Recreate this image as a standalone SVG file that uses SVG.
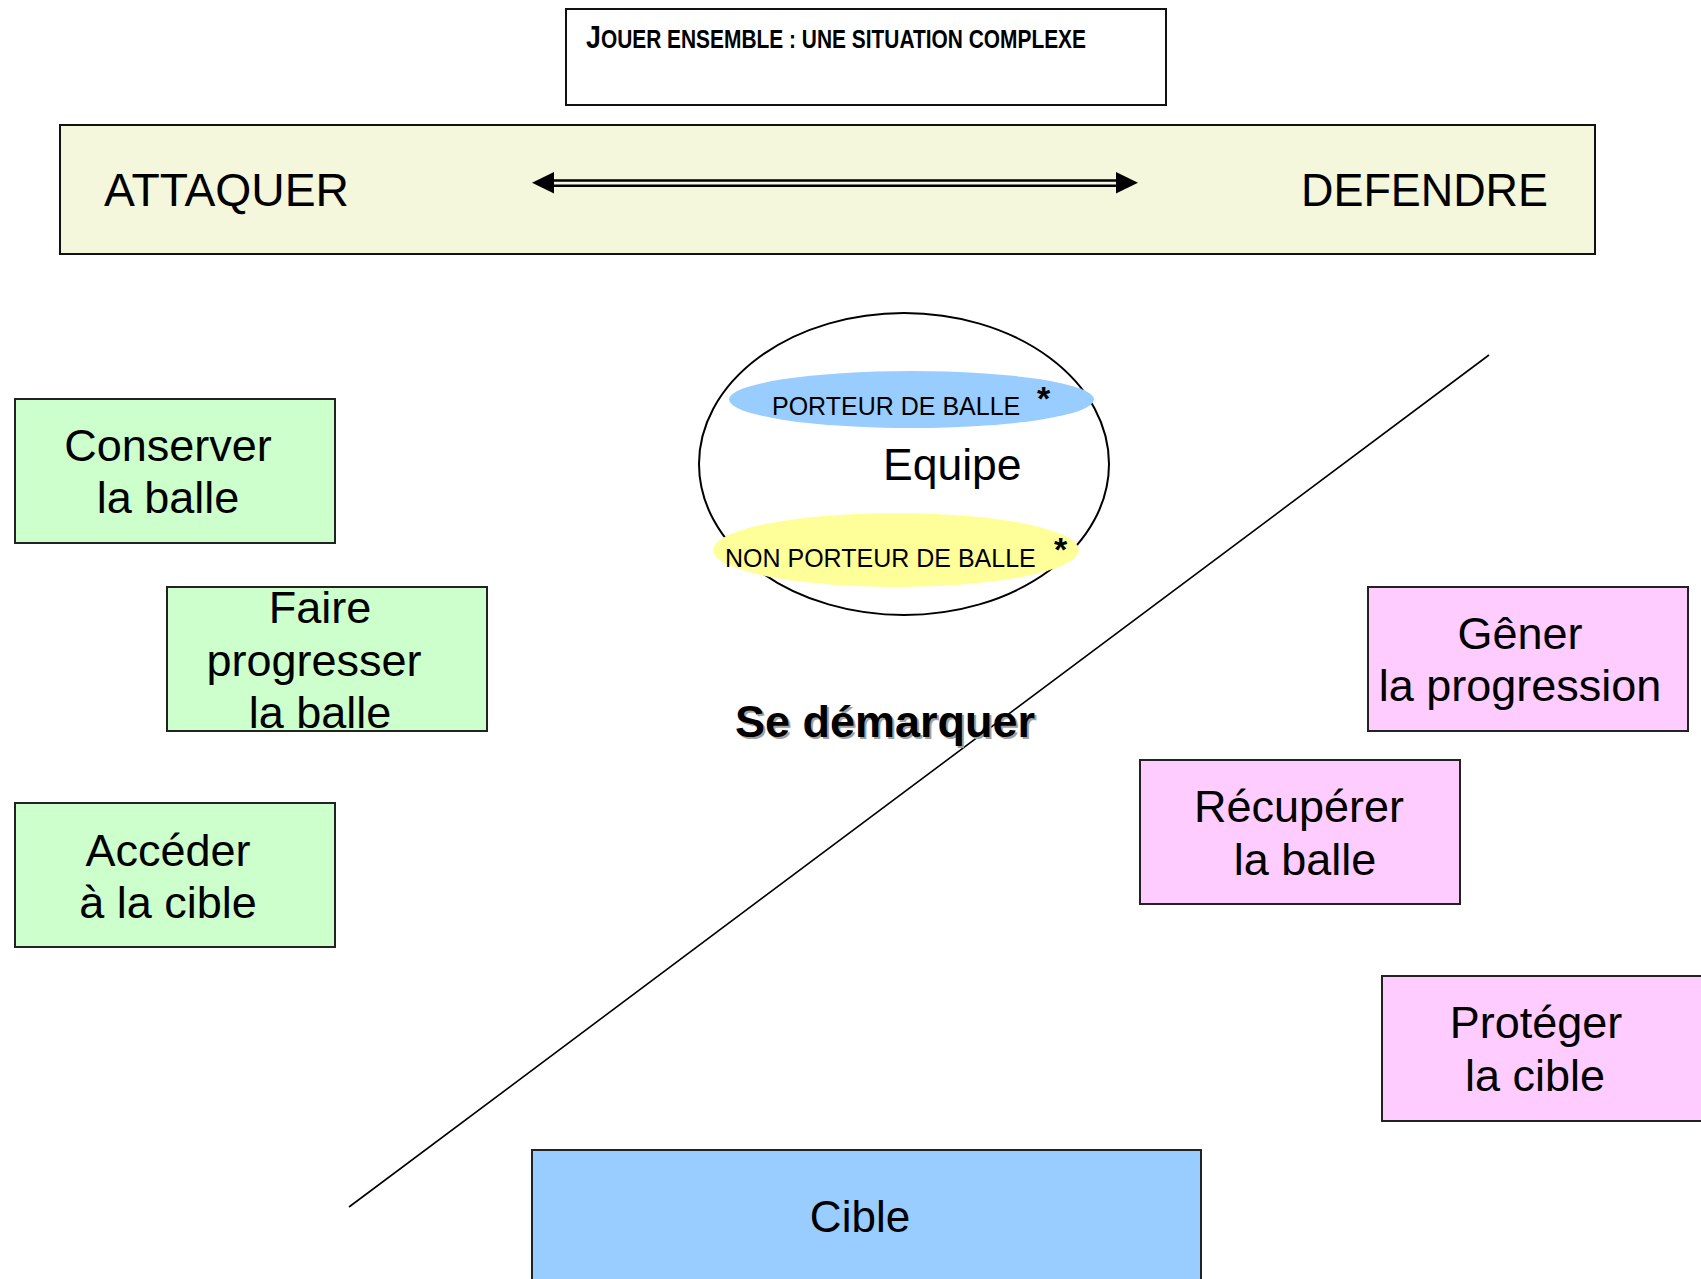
<svg xmlns="http://www.w3.org/2000/svg" width="1701" height="1279" viewBox="0 0 1701 1279">
<style>
  text { font-family: "Liberation Sans", Arial, sans-serif; fill: #000; }
  .box { stroke: #222; stroke-width: 2; }
  .green { fill: #CCFFCC; }
  .pink { fill: #FFCCFF; }
  .lbl { font-size: 45px; text-anchor: middle; }
  .big { font-size: 46px; }
  .small { font-size: 25px; }
  .star { font-size: 34px; font-weight: bold; text-anchor: middle; }
  .line { stroke: #000; fill: none; }
</style>
<rect width="1701" height="1279" fill="#fff"/>

<g id="title">
  <rect x="566" y="9" width="600" height="96" fill="#fff" stroke="#111" stroke-width="2"/>
  <text x="586" y="48" font-family="'Liberation Sans Narrow', 'Liberation Sans', sans-serif" font-weight="bold" textLength="500" lengthAdjust="spacingAndGlyphs"><tspan font-size="32">J</tspan><tspan font-size="25">OUER ENSEMBLE : UNE SITUATION COMPLEXE</tspan></text>
</g>

<g id="band">
  <rect x="60" y="125" width="1535" height="129" fill="#F5F7DD" stroke="#111" stroke-width="2"/>
  <text class="big" x="104" y="206" textLength="245" lengthAdjust="spacingAndGlyphs">ATTAQUER</text>
  <text class="big" x="1301" y="206" textLength="247" lengthAdjust="spacingAndGlyphs">DEFENDRE</text>
</g>

<g id="connectors">
  <line class="line" x1="550" y1="180.5" x2="1120" y2="180.5" stroke-width="2.5"/>
  <line class="line" x1="550" y1="185.8" x2="1120" y2="185.8" stroke-width="2.5"/>
  <polygon points="532,182.8 554,172 554,193.5" fill="#000"/>
  <polygon points="1138,182.8 1116,172 1116,193.5" fill="#000"/>
  <line class="line" x1="1489" y1="355" x2="349" y2="1207" stroke-width="1.6"/>
</g>

<g id="equipe">
  <ellipse cx="904" cy="464" rx="205" ry="151" fill="none" stroke="#000" stroke-width="2"/>
  <text x="883" y="480" font-size="44.5">Equipe</text>
</g>

<g id="porteur">
  <ellipse cx="911.5" cy="399.5" rx="182.5" ry="28.5" fill="#99CCFF"/>
  <text class="small" x="772" y="415">PORTEUR DE BALLE</text>
  <text class="star" x="1043.5" y="410">*</text>
</g>

<g id="non-porteur">
  <ellipse cx="896" cy="550" rx="183" ry="37" fill="#FFFF99"/>
  <text class="small" x="725" y="567">NON PORTEUR DE BALLE</text>
  <text class="star" x="1060.5" y="561">*</text>
</g>

<g id="se-demarquer">
  <text x="737" y="739" font-size="45" font-weight="bold" style="fill:#a0a0a0">Se démarquer</text>
  <text x="735" y="737" font-size="45" font-weight="bold">Se démarquer</text>
</g>

<g id="conserver">
  <rect class="box green" x="15" y="399" width="320" height="144"/>
  <text class="lbl" x="168" y="461">Conserver</text>
  <text class="lbl" x="168" y="513">la balle</text>
</g>

<g id="faire-progresser">
  <rect class="box green" x="167" y="587" width="320" height="144"/>
  <text class="lbl" x="320" y="623">Faire</text>
  <text class="lbl" x="314" y="676">progresser</text>
  <text class="lbl" x="320" y="728">la balle</text>
</g>

<g id="acceder">
  <rect class="box green" x="15" y="803" width="320" height="144"/>
  <text class="lbl" x="168" y="866">Accéder</text>
  <text class="lbl" x="168" y="918">à la cible</text>
</g>

<g id="gener">
  <rect class="box pink" x="1368" y="587" width="320" height="144"/>
  <text class="lbl" x="1520" y="649">Gêner</text>
  <text class="lbl" x="1520" y="701">la progression</text>
</g>

<g id="recuperer">
  <rect class="box pink" x="1140" y="760" width="320" height="144"/>
  <text class="lbl" x="1299" y="822">Récupérer</text>
  <text class="lbl" x="1305" y="875">la balle</text>
</g>

<g id="proteger">
  <rect class="box pink" x="1382" y="976" width="330" height="145"/>
  <text class="lbl" x="1536" y="1038">Protéger</text>
  <text class="lbl" x="1535" y="1091">la cible</text>
</g>

<g id="cible">
  <rect class="box" x="532" y="1150" width="669" height="140" fill="#99CCFF"/>
  <text x="860" y="1232" font-size="44" text-anchor="middle">Cible</text>
</g>
</svg>
